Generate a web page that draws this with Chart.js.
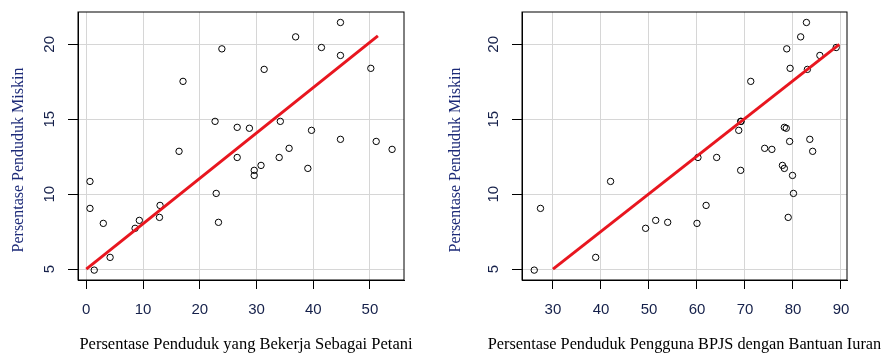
<!DOCTYPE html>
<html>
<head>
<meta charset="utf-8">
<script src="https://cdn.jsdelivr.net/npm/chart.js@4"></script>
<style>
  html, body { margin: 0; padding: 0; background: #fff; }
  #wrap { position: relative; width: 883px; height: 354px; }
  #leftChart { position: absolute; left: 0; top: 0; }
  #rightChart { position: absolute; left: 441px; top: 0; }
</style>
</head>
<body>
<div id="wrap">
  <canvas id="leftChart" width="441" height="354"></canvas>
  <canvas id="rightChart" width="442" height="354"></canvas>
</div>
<script>
// persentase penduduk miskin per kabupaten/kota
const poverty = [4.93, 5.78, 7.72, 8.05, 8.12, 8.25, 8.45, 9.05, 9.25, 10.05, 10.85, 11.25, 11.59, 11.72, 11.92,
    12.45, 12.45, 12.86, 12.99, 13.06, 13.52, 13.66, 14.26, 14.40, 14.46, 14.86, 14.86, 17.53, 18.33, 18.40,
    19.26, 19.70, 19.79, 20.50, 21.46];
// persentase penduduk yang bekerja sebagai petani
const petani = [1.4, 4.2, 8.6, 3.0, 23.3, 9.35, 12.9, 0.65, 13.0, 22.9, 0.65, 29.6, 29.6, 39.05, 30.8,
    26.6, 34.0, 16.35, 53.9, 35.75, 51.1, 44.8, 39.7, 28.75, 26.6, 22.7, 34.2, 17.05, 31.35, 50.15,
    44.8, 23.9, 41.45, 36.9, 44.8];
// persentase penduduk pengguna BPJS PBI
const bpjs = [26.1, 38.9, 49.3, 60.0, 53.9, 51.4, 79.0, 27.4, 61.9, 80.1, 42.0, 79.9, 69.1, 78.2, 77.8,
    60.2, 64.1, 84.1, 75.6, 74.1, 79.3, 83.5, 68.7, 78.6, 78.2, 69.1, 69.2, 71.2, 83.0, 79.4,
    85.6, 78.7, 89.0, 81.6, 82.8];

// garis tren (ujung-ujungnya)
const fitPetaniX = [0, 51.4];
const fitPetaniY = [5.0, 20.57];
const fitBpjsX = [30, 89.65];
const fitBpjsY = [5.0, 20.0];

const yTicks = [5, 10, 15, 20];
const petaniTicks = [0, 10, 20, 30, 40, 50];
const bpjsTicks = [30, 40, 50, 60, 70, 80, 90];

const yTitle = 'Persentase Penduduk Miskin';
const petaniTitle = 'Persentase Penduduk yang Bekerja Sebagai Petani';
const bpjsTitle = 'Persentase Penduduk Pengguna BPJS dengan Bantuan Iuran';

const boxPlugin = {
    id: 'box',
    afterDatasetsDraw(chart) {
        const { ctx, chartArea: a } = chart;
        ctx.save();
        ctx.strokeStyle = '#000';
        ctx.lineWidth = 1;
        ctx.strokeRect(a.left, a.top, a.right - a.left, a.bottom - a.top);
        ctx.restore();
    }
};

// judul sumbu x digambar sendiri supaya boleh lebih lebar dari area plot
function xTitlePlugin(text, size, cx) {
    return {
        id: 'xTitle',
        afterDraw(chart) {
            const ctx = chart.ctx;
            ctx.save();
            ctx.font = size + 'px "Liberation Serif"';
            ctx.fillStyle = '#000';
            ctx.textAlign = 'center';
            ctx.textBaseline = 'middle';
            ctx.fillText(text, cx, 345);
            ctx.restore();
        }
    };
}

function makeScatter(canvasId, xs, fitX, fitY, xTicks, xMin, xMax, xTitle, opt) {
    const points = xs.map((x, i) => ({ x: x, y: poverty[i] }));
    const fit = fitX.map((x, i) => ({ x: x, y: fitY[i] }));
    return new Chart(document.getElementById(canvasId), {
        type: 'scatter',
        data: {
            datasets: [{
                data: fit,
                showLine: true,
                borderColor: '#e8161f',
                borderWidth: 3,
                pointRadius: 0,
                fill: false
            }, {
                data: points,
                pointStyle: 'circle',
                pointRadius: 3.2,
                borderWidth: 1,
                borderColor: '#000',
                backgroundColor: 'rgba(0,0,0,0)'
            }]
        },
        options: {
            responsive: false,
            animation: false,
            events: [],
            layout: { padding: { left: 0, top: 12, right: opt.padRight, bottom: 0 } },
            plugins: { legend: { display: false }, tooltip: { enabled: false } },
            scales: {
                x: {
                    type: 'linear',
                    min: xMin,
                    max: xMax,
                    afterBuildTicks: s => { s.ticks = xTicks.map(v => ({ value: v })); },
                    afterFit: s => { s.height = 74; s.paddingLeft = 0; s.paddingRight = 0; },
                    grid: { color: '#d6d6d6', tickColor: '#000', tickLength: 9, lineWidth: 1 },
                    border: { display: true, color: '#000' },
                    ticks: {
                        padding: 12,
                        maxRotation: 0,
                        color: '#15204a',
                        font: { family: 'Liberation Sans', size: 15 }
                    },
                    title: { display: false }
                },
                y: {
                    type: 'linear',
                    min: 4.27,
                    max: 22.16,
                    afterBuildTicks: s => { s.ticks = yTicks.map(v => ({ value: v })); },
                    afterFit: s => { s.width = opt.yWidth; s.paddingTop = 0; s.paddingBottom = 0; },
                    grid: { color: '#d6d6d6', tickColor: '#000', tickLength: 10, lineWidth: 1 },
                    border: { display: true, color: '#000' },
                    ticks: {
                        minRotation: 90,
                        maxRotation: 90,
                        crossAlign: 'center',
                        padding: 10,
                        color: '#15204a',
                        font: { family: 'Liberation Sans', size: 15 }
                    },
                    title: {
                        display: true,
                        // trailing spaces push the title down a little, as in the original
                        text: yTitle + '\u00a0'.repeat(7),
                        color: '#1c2a78',
                        padding: { top: opt.yTitlePad, bottom: 0 },
                        font: { family: 'Liberation Serif', size: 16, lineHeight: 1.2 }
                    }
                }
            }
        },
        plugins: [boxPlugin, xTitlePlugin(xTitle, opt.xTitleSize, opt.xTitleX)]
    });
}

makeScatter('leftChart', petani, fitPetaniX, fitPetaniY, petaniTicks, -1.46, 56.0, petaniTitle,
    { padRight: 37, yWidth: 78, yTitlePad: 9, xTitleSize: 16.5, xTitleX: 246 });
makeScatter('rightChart', bpjs, fitBpjsX, fitBpjsY, bpjsTicks, 23.55, 91.25, bpjsTitle,
    { padRight: 36, yWidth: 81, yTitlePad: 5, xTitleSize: 16.3, xTitleX: 243.5 });
</script>
</body>
</html>
